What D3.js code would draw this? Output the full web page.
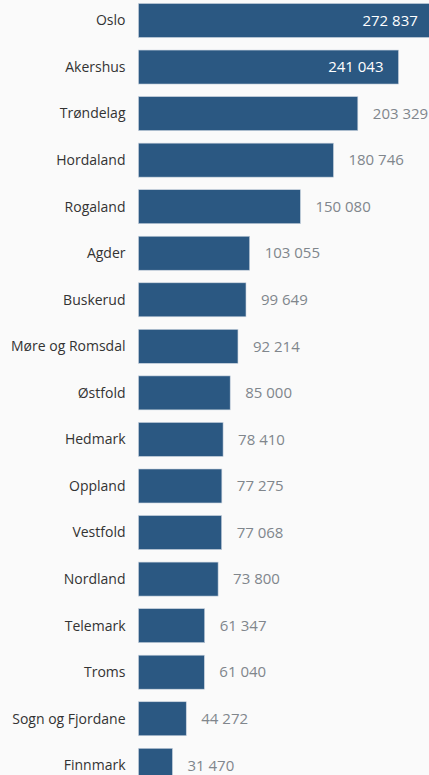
<!DOCTYPE html>
<html>
<head>
<meta charset="utf-8">
<script src="https://cdn.jsdelivr.net/npm/d3@7"></script>
<style>
  html, body { margin: 0; padding: 0; background: #fafafa; overflow: hidden; }
  svg { display: block; font-family: "Open Sans", sans-serif; }
</style>
</head>
<body>
<svg id="chart" width="429" height="775"></svg>
<script>
let fylker = ['Oslo', 'Akershus', 'Trøndelag', 'Hordaland', 'Rogaland', 'Agder', 'Buskerud',
	'Møre og Romsdal', 'Østfold', 'Hedmark', 'Oppland', 'Vestfold', 'Nordland', 'Telemark',
	'Troms', 'Sogn og Fjordane', 'Finnmark'];
let verdier = [272837, 241043, 203329, 180746, 150080, 103055, 99649, 92214, 85000, 78410,
	77275, 77068, 73800, 61347, 61040, 44272, 31470];

let data = fylker.map((navn, i) => ({ navn: navn, verdi: verdier[i] }));

let svg = d3.select('#chart');
let left = 138.5;
let step = 46.55;

let x = d3.scaleLinear().domain([0, 272837]).range([0, 294.3]);
let y = d3.scaleBand()
	.domain(fylker)
	.range([3.5 - 0.135 * step, 3.5 - 0.135 * step + 17 * step])
	.paddingInner(0.27)
	.paddingOuter(0.135);

let format = (v) => d3.format(',')(v).replace(/,/g, ' ');

let row = svg.selectAll('g.row')
	.data(data)
	.enter()
	.append('g')
	.attr('class', 'row')
	.attr('transform', (d) => 'translate(0,' + y(d.navn) + ')');

row.append('rect')
	.attr('x', left)
	.attr('y', 0)
	.attr('width', (d) => x(d.verdi))
	.attr('height', y.bandwidth())
	.attr('fill', '#2b5882')
	.attr('stroke', '#c9d3de')
	.attr('stroke-width', 0.6);

row.append('text')
	.attr('x', left - 13)
	.attr('y', y.bandwidth() / 2)
	.attr('dy', '0.35em')
	.attr('text-anchor', 'end')
	.attr('fill', '#333')
	.style('font-size', '14px')
	.text((d) => d.navn);

// store tall inne i stolpen, resten utenfor
row.append('text')
	.attr('x', (d) => d.verdi > 220000 ? left + x(d.verdi) - 15 : left + x(d.verdi) + 15)
	.attr('y', y.bandwidth() / 2)
	.attr('dy', '0.35em')
	.attr('text-anchor', (d) => d.verdi > 220000 ? 'end' : 'start')
	.attr('fill', (d) => d.verdi > 220000 ? '#ffffff' : '#80868c')
	.style('font-size', '15px')
	.text((d) => format(d.verdi));
</script>
</body>
</html>
